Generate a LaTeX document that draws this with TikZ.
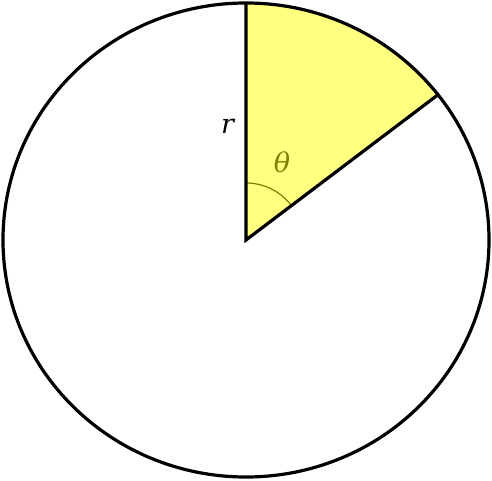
\documentclass[tikz,border=0pt]{standalone}
\usepackage{fontspec}
\setmainfont{DejaVu Serif}
\usetikzlibrary{calc}
\definecolor{sectorfill}{RGB}{255,255,128}
\definecolor{anglecol}{RGB}{128,128,0}

\begin{document}
\begin{tikzpicture}[x=1pt, y=1pt, line width=3.2pt,
    lbl/.style={font=\fontsize{27}{30}\selectfont\itshape, inner sep=0pt}]
    \useasboundingbox (0,0) rectangle (492,480);
    \coordinate (c) at (246,240);
    \coordinate (top) at ($(c)+(90:243 and 237)$);
    \coordinate (edge) at ($(c)+(37.8:243 and 237)$);
    % sector
    \fill[sectorfill] (c) -- (edge) arc[start angle=37.8, end angle=90, x radius=243, y radius=237] -- cycle;
    \draw[anglecol, line width=1.2pt] ($(c)+(0,57)$) arc[start angle=90, end angle=37, radius=57];
    \draw (c) ellipse [x radius=243, y radius=237];
    \draw (top) -- (c) -- (edge);
    \node[lbl] (rlabel) at (227.5,354) {r};
    \node[lbl, text=anglecol] (thetalabel) at (282,318) {θ};
\end{tikzpicture}
\end{document}
